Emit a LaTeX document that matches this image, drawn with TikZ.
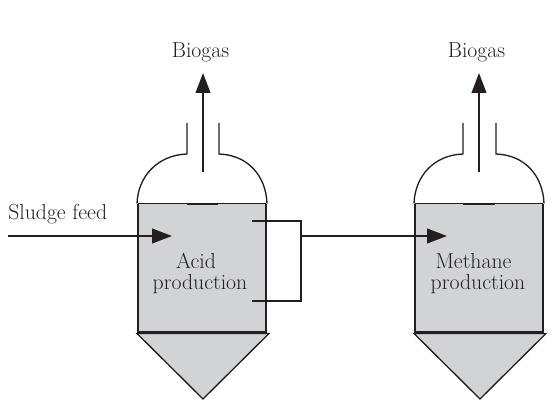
\documentclass[tikz,border=0pt]{standalone}
\usetikzlibrary{arrows.meta}
\definecolor{tankfill}{RGB}{209,211,212}
\definecolor{ink}{RGB}{35,31,32}
\tikzset{
  lbl/.style={text=ink,inner sep=0pt,font=\fontsize{16.3}{19}\selectfont,align=center},
  wall/.style={draw=ink,line width=1.5pt},
  thin wall/.style={draw=ink,line width=1pt},
  flow/.style={draw=ink,line width=1.5pt,-{Triangle[length=15pt,width=11pt,fill=ink]}},
  pipe/.style={draw=ink,line width=1.5pt},
}
\begin{document}
\begin{tikzpicture}[x=0.75pt,y=-0.75pt]
\useasboundingbox (0,0) rectangle (559,413);
% tank 1
\fill[tankfill] (138,203.5) rectangle (266,332);
\draw[thin wall,fill=tankfill] (137,333.5) -- (269,333.5) -- (203,399) -- cycle;
\draw[wall] (138,203.5) -- (138,332) -- (266,332) -- (266,203.5);
\draw[draw=ink,line width=.6pt] (138,203.5) -- (266,203.5);
\draw[wall] (187,203.5) -- (218,203.5);
\draw[thin wall] (187,123) -- (187,154) .. controls (158,155) and (138,176) .. (137,203.5);
\draw[thin wall] (219,123) -- (219,154) .. controls (248,155) and (266,176) .. (267,203.5);
% tank 2
\fill[tankfill] (415,203.5) rectangle (543,332);
\draw[thin wall,fill=tankfill] (414,333.5) -- (546,333.5) -- (480,399) -- cycle;
\draw[wall] (415,203.5) -- (415,332) -- (543,332) -- (543,203.5);
\draw[draw=ink,line width=.6pt] (415,203.5) -- (543,203.5);
\draw[wall] (463,203.5) -- (495,203.5);
\draw[thin wall] (463,123) -- (463,154) .. controls (434,155) and (415,176) .. (414,203.5);
\draw[thin wall] (496,123) -- (496,154) .. controls (525,155) and (543,176) .. (544,203.5);
% labels
\node[lbl] (gas1) at (200.5,52.5) {Biogas};
\node[lbl] (gas2) at (476.5,52.5) {Biogas};
\node[lbl,anchor=west] (feedl) at (8,214.5) {Sludge feed};
\node[lbl] (acid) at (196,261) {Acid};
\node[lbl] (prod1) at (200,284) {production};
\node[lbl] (meth) at (473.5,261) {Methane};
\node[lbl] (prod2) at (478,284) {production};
% connector coordinates
\coordinate (b1s) at (203,172);
\coordinate (b1e) at (203,73);
\coordinate (b2s) at (479,172);
\coordinate (b2e) at (479,73);
\coordinate (fs) at (8,236);
\coordinate (fe) at (172,236);
\coordinate (ja) at (252,221);
\coordinate (jb) at (301,221);
\coordinate (jc) at (301,301);
\coordinate (jd) at (252,301);
\coordinate (os) at (301,236);
\coordinate (oe) at (447,236);
\draw[flow] (b1s) -- (b1e);
\draw[flow] (b2s) -- (b2e);
\draw[flow] (fs) -- (fe);
\draw[flow] (os) -- (oe);
\draw[pipe] (ja) -- (jb) -- (jc) -- (jd);
\end{tikzpicture}
\end{document}
